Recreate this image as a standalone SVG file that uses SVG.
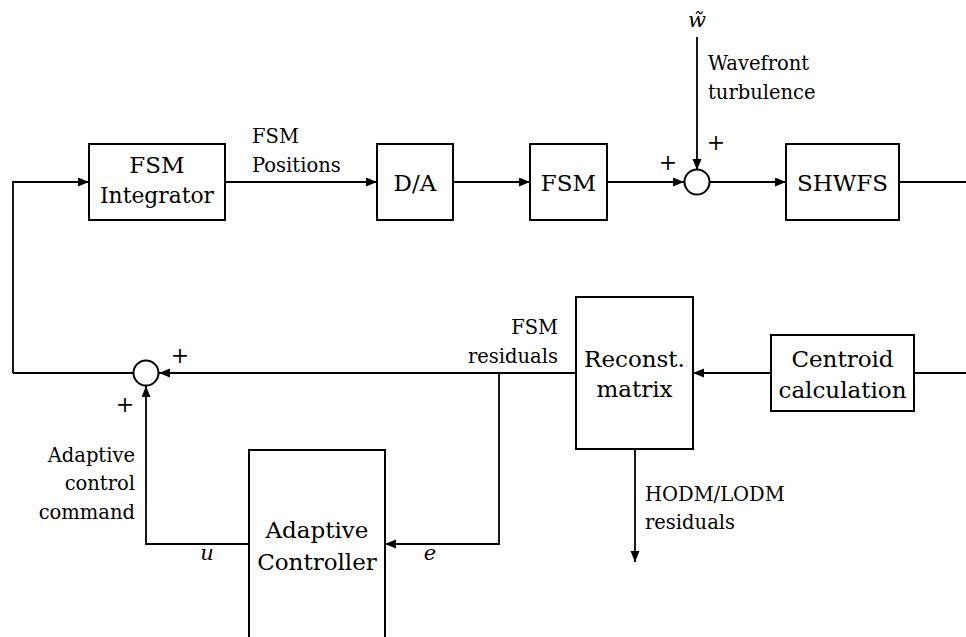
<svg xmlns="http://www.w3.org/2000/svg" width="966" height="637" viewBox="0 0 966 637">
  <style>
    .box { fill: #fff; stroke: #000; stroke-width: 2; }
    .sum { fill: #fff; stroke: #000; stroke-width: 2; }
    .wire { fill: none; stroke: #000; stroke-width: 1.8; }
    .arrow { marker-end: url(#head); }
    .bt { font-family: "DejaVu Serif", serif; font-size: 23px; fill: #000; text-anchor: middle; }
    .lbl { font-family: "DejaVu Serif", serif; font-size: 19.5px; fill: #000; }
    .sign { font-family: "DejaVu Serif", serif; font-size: 22px; fill: #000; text-anchor: middle; }
    .var { font-family: "DejaVu Serif", serif; font-size: 21px; font-style: italic; fill: #000; text-anchor: middle; }
    .r { text-anchor: end; }
  </style>
  <defs>
    <marker id="head" markerUnits="userSpaceOnUse" markerWidth="12" markerHeight="10" refX="11" refY="4.5" orient="auto">
      <path d="M0,0 L11,4.5 L0,9 z" fill="#000"/>
    </marker>
  </defs>

  <rect width="966" height="637" fill="#fff"/>

  <!-- connectors -->
  <g id="connectors">
    <polyline class="wire arrow" points="13,373 13,182 89,182"/>
    <line class="wire arrow" x1="225" y1="182" x2="377" y2="182"/>
    <line class="wire arrow" x1="453" y1="182" x2="530" y2="182"/>
    <line class="wire arrow" x1="607" y1="182" x2="684" y2="182"/>
    <line class="wire arrow" x1="697" y1="37" x2="697" y2="170"/>
    <line class="wire arrow" x1="710" y1="182" x2="786" y2="182"/>
    <line class="wire" x1="899" y1="182" x2="966" y2="182"/>
    <line class="wire" x1="966" y1="373" x2="914" y2="373"/>
    <line class="wire arrow" x1="771" y1="373" x2="693" y2="373"/>
    <line class="wire arrow" x1="576" y1="373" x2="159" y2="373"/>
    <line class="wire" x1="133" y1="373" x2="13" y2="373"/>
    <polyline class="wire arrow" points="499,373 499,544 385,544"/>
    <polyline class="wire arrow" points="249,544 146,544 146,386"/>
    <line class="wire arrow" x1="635" y1="449" x2="635" y2="562"/>
  </g>

  <!-- blocks -->
  <g id="fsm-integrator">
    <rect class="box" x="89" y="144" width="136" height="76"/>
    <text class="bt" x="157" y="173">FSM</text>
    <text class="bt" x="157" y="203" textLength="114" lengthAdjust="spacingAndGlyphs">Integrator</text>
  </g>
  <g id="da">
    <rect class="box" x="377" y="144" width="76" height="76"/>
    <text class="bt" x="415" y="191">D/A</text>
  </g>
  <g id="fsm">
    <rect class="box" x="530" y="144" width="77" height="76"/>
    <text class="bt" x="568.5" y="191">FSM</text>
  </g>
  <g id="sum-top">
    <circle class="sum" cx="697" cy="182" r="12.5"/>
    <text class="sign" x="668" y="170">+</text>
    <text class="sign" x="716" y="150">+</text>
  </g>
  <g id="shwfs">
    <rect class="box" x="786" y="144" width="113" height="76"/>
    <text class="bt" x="842.5" y="191">SHWFS</text>
  </g>
  <g id="centroid">
    <rect class="box" x="771" y="335" width="143" height="76"/>
    <text class="bt" x="842.5" y="367">Centroid</text>
    <text class="bt" x="842.5" y="398">calculation</text>
  </g>
  <g id="reconst">
    <rect class="box" x="576" y="297" width="117" height="152"/>
    <text class="bt" x="634.5" y="367">Reconst.</text>
    <text class="bt" x="634.5" y="397">matrix</text>
  </g>
  <g id="sum-bottom">
    <circle class="sum" cx="146" cy="373" r="12.5"/>
    <text class="sign" x="180" y="363">+</text>
    <text class="sign" x="125" y="412">+</text>
  </g>
  <g id="adaptive-controller">
    <rect class="box" x="249" y="450" width="136" height="200"/>
    <text class="bt" x="317" y="538">Adaptive</text>
    <text class="bt" x="317" y="570">Controller</text>
  </g>

  <!-- signal labels -->
  <g id="labels">
    <text class="var" x="697" y="27">w̃</text>
    <text class="lbl" x="708" y="70">Wavefront</text>
    <text class="lbl" x="708" y="99">turbulence</text>
    <text class="lbl" x="252" y="143">FSM</text>
    <text class="lbl" x="252" y="172">Positions</text>
    <text class="lbl r" x="558" y="334">FSM</text>
    <text class="lbl r" x="558" y="363">residuals</text>
    <text class="lbl" x="645" y="501">HODM/LODM</text>
    <text class="lbl" x="645" y="529">residuals</text>
    <text class="lbl r" x="135" y="462">Adaptive</text>
    <text class="lbl r" x="135" y="490">control</text>
    <text class="lbl r" x="135" y="519">command</text>
    <text class="var" x="207" y="560">u</text>
    <text class="var" x="430" y="560">e</text>
  </g>
</svg>
